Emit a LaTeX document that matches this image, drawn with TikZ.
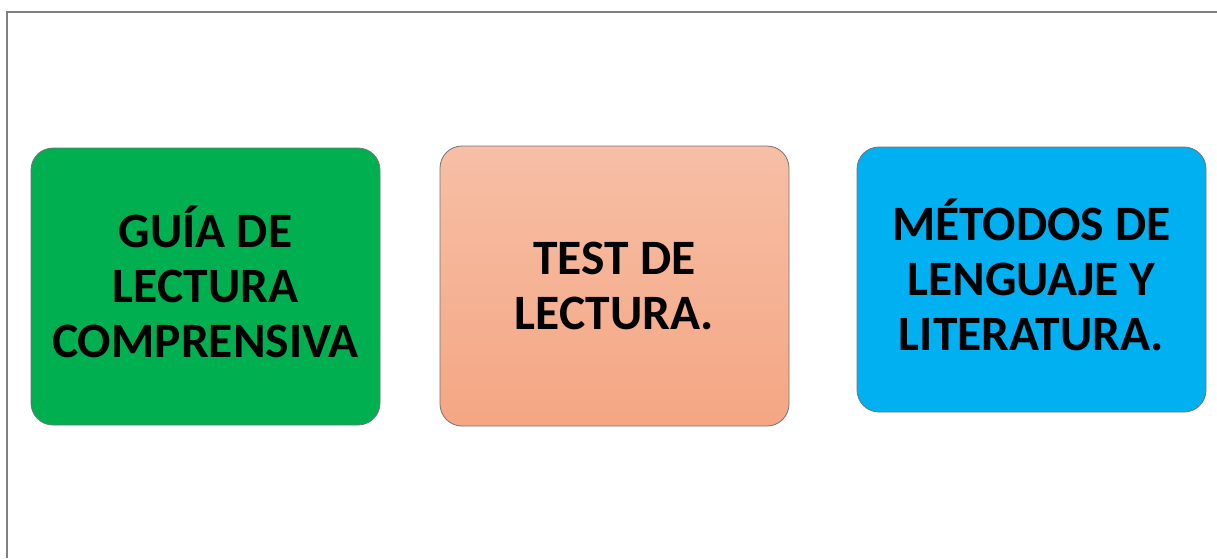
\documentclass[tikz,border=0pt]{standalone}
\usepackage{fontspec}
\setmainfont{Carlito}
\definecolor{verde}{RGB}{0,176,80}
\definecolor{celeste}{RGB}{0,176,240}
\definecolor{salmonA}{RGB}{246,191,166}
\definecolor{salmonB}{RGB}{245,166,131}
\definecolor{marco}{RGB}{128,128,128}
\begin{document}
\begin{tikzpicture}[x=1pt,y=-1pt,
    caja/.style={draw=black!55,line width=0.8pt,rounded corners=22pt,
        minimum width=349pt,align=center,text depth=10pt,
        font=\bfseries\fontsize{49.5}{55}\selectfont}]
                \useasboundingbox (0,0) rectangle (1217,558);
                \draw[marco,line width=2pt] (7,558) -- (7,12) -- (1217,12);
                \node[caja,fill=verde,minimum height=277pt] (guia) at (205.5,286.5) {GUÍA DE\\LECTURA\\COMPRENSIVA};
                \node[caja,top color=salmonA,bottom color=salmonB,minimum height=280pt,text depth=0pt] (test) at (614.5,286) {TEST DE\\LECTURA.};
                \node[caja,fill=celeste,minimum height=265pt] (metodos) at (1031.5,279.5) {MÉTODOS DE\\LENGUAJE Y\\LITERATURA.};
            \end{tikzpicture}
\end{document}
